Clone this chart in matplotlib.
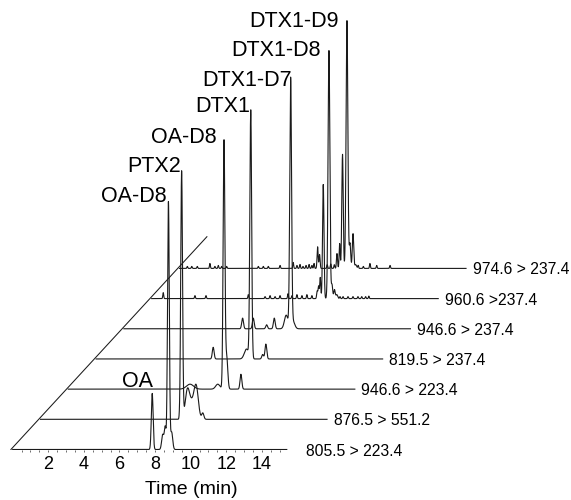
import matplotlib
matplotlib.use("Agg")
import matplotlib.pyplot as plt
import numpy as np

plt.rcParams["font.family"] = ["Liberation Sans", "DejaVu Sans"]

# MRM transitions, bottom trace first
transitions = [
    "805.5 > 223.4",
    "876.5 > 551.2",
    "946.6 > 223.4",
    "819.5 > 237.4",
    "946.6 > 237.4",
    "960.6 >237.4",
    "974.6 > 237.4",
]

# peaks per trace: (retention time min, relative intensity %, width sigma min)
peaks_0 = [(7.84, 22.6, 0.05), (8.43, 6.0, 0.06), (8.57, 9.0, 0.05),
           (8.75, 100.0, 0.05), (8.93, 7.0, 0.06)]
peaks_1 = [(7.93, 100.0, 0.05), (8.25, 11.0, 0.12), (8.5, 6.0, 0.15),
           (8.75, 12.5, 0.12), (9.12, 2.5, 0.06)]
peaks_2 = [(6.84, 2.0, 0.2), (8.4, 2.0, 0.12), (8.75, 100.0, 0.05),
           (8.9, 13.0, 0.06), (9.7, 6.0, 0.05)]
peaks_3 = [(6.58, 4.7, 0.05), (8.45, 4.0, 0.12), (8.69, 100.0, 0.05),
           (9.36, 1.8, 0.05), (9.54, 6.0, 0.05)]
peaks_4 = [(6.67, 4.3, 0.05), (7.27, 4.3, 0.05), (8.02, 1.6, 0.05),
           (8.45, 4.3, 0.05), (9.12, 5.5, 0.1), (9.37, 100.0, 0.05),
           (9.5, 3.0, 0.1)]
peaks_5 = [(0.65, 2.4, 0.025), (2.43, 1.2, 0.025), (3.05, 1.2, 0.025),
           (5.43, 1.6, 0.025), (6.37, 0.8, 0.025), (6.65, 1.2, 0.025),
           (6.93, 0.8, 0.025), (7.21, 1.2, 0.025), (7.66, 2.0, 0.025),
           (7.88, 1.2, 0.025), (8.16, 1.6, 0.025), (8.44, 1.2, 0.025),
           (8.72, 1.6, 0.025), (9.0, 1.2, 0.025), (9.3, 3.0, 0.03),
           (9.38, 5.0, 0.03), (9.47, 8.5, 0.03), (9.64, 46.0, 0.04),
           (9.96, 100.0, 0.05), (10.13, 5.6, 0.04), (10.27, 3.6, 0.04),
           (10.4, 1.6, 0.05), (10.58, 0.8, 0.025), (10.75, 0.8, 0.025),
           (11.03, 0.8, 0.025), (11.31, 0.8, 0.025), (11.59, 0.8, 0.025),
           (11.8, 0.8, 0.025), (12.02, 0.8, 0.025), (12.2, 1.0, 0.025)]
peaks_6 = [(0.44, 0.8, 0.025), (0.69, 0.8, 0.025), (1.0, 0.8, 0.025),
           (1.71, 2.0, 0.025), (1.99, 0.8, 0.025), (2.18, 1.2, 0.025),
           (2.37, 0.8, 0.025), (2.65, 0.8, 0.025), (4.43, 0.8, 0.025),
           (4.71, 0.8, 0.025), (4.99, 0.8, 0.025), (5.65, 1.2, 0.025),
           (6.39, 2.4, 0.025), (6.6, 1.2, 0.025), (6.77, 1.6, 0.025),
           (6.94, 0.8, 0.025), (7.11, 1.2, 0.025), (7.28, 1.6, 0.025),
           (7.44, 1.2, 0.025), (7.56, 2.0, 0.025), (7.76, 8.7, 0.03),
           (7.87, 5.6, 0.03), (8.3, 1.5, 0.025), (8.5, 1.8, 0.025),
           (8.7, 1.5, 0.025), (8.85, 6.0, 0.03), (9.0, 10.0, 0.03),
           (9.16, 46.0, 0.04), (9.41, 100.0, 0.05), (9.58, 10.0, 0.04),
           (9.75, 14.0, 0.04), (9.9, 1.5, 0.05), (10.04, 1.2, 0.025),
           (10.33, 0.8, 0.025), (10.7, 2.0, 0.025), (11.08, 1.2, 0.025),
           (11.83, 1.2, 0.025)]
all_peaks = [peaks_0, peaks_1, peaks_2, peaks_3, peaks_4, peaks_5, peaks_6]

# run length of each trace (min)
run_end = [15.4, 16.1, 16.1, 16.1, 16.1, 16.1, 16.1]

# labelled peaks: (trace index, retention time, name)
peak_names = [
    (0, 7.84, "OA"),
    (0, 8.75, "OA-D8"),
    (1, 7.93, "PTX2"),
    (2, 8.75, "OA-D8"),
    (3, 8.69, "DTX1"),
    (4, 9.37, "DTX1-D7"),
    (5, 9.96, "DTX1-D8"),
    (6, 9.41, "DTX1-D9"),
]
# label offsets in pixels (dx, dy) relative to the peak apex
name_offsets = [(1, 6), (-2, -1), (-1, -1), (-7, -2), (-1, -1), (1, -5),
                (-8, -5), (-8, -7)]

xticks = [2, 4, 6, 8, 10, 12, 14]

# waterfall offsets
dx = 1.562
dy = 12.17

fig = plt.figure(figsize=(5.71, 5.0), dpi=100)
ax = fig.add_axes([0, 0.101, 1, 0.899])
ax.set_xlim(-0.713, 31.37)
ax.set_ylim(0, 181.25)

px = 0.72  # points per pixel
for i, (plist, tend) in enumerate(zip(all_peaks, run_end)):
    t = np.arange(0, tend + 0.0001, 0.004)
    y = np.zeros_like(t)
    for rt, h, s in plist:
        y += h * np.exp(-0.5 * ((t - rt) / s) ** 2)
    ax.plot(t + i * dx, y + i * dy, color="#1a1a1a", lw=0.8)
    ax.annotate(transitions[i], xy=(16.1 + i * dx, i * dy),
                xytext=(6.5 * px, -1.5 * px), textcoords="offset points",
                ha="left", va="center", fontsize=11.3, annotation_clip=False)

for (i, rt, name), (ox, oy) in zip(peak_names, name_offsets):
    h = max(hh for r, hh, s in all_peaks[i] if r == rt)
    ax.annotate(name, xy=(rt + i * dx, h + i * dy),
                xytext=(ox * px, oy * px), textcoords="offset points",
                ha="right", va="baseline", fontsize=15.5)

# diagonal guide through the trace origins
k = 7.05
ax.plot([-0.1, -0.1 + k * dx], [0, k * dy], color="#1a1a1a", lw=0.75)

for s in ax.spines.values():
    s.set_visible(False)
ax.set_yticks([])
ax.set_xticks(xticks)
ax.set_xticks(np.arange(0.5, 15.5, 0.5), minor=True)
ax.tick_params(axis="x", which="both", direction="out", length=1.5,
               width=0.6, color="#555555", pad=3, labelsize=13)
ax.annotate("Time (min)", xy=(10.05, 0), xytext=(0, -23), textcoords="offset points",
            ha="center", va="top", fontsize=14)

fig.savefig("out.png", dpi=100)
